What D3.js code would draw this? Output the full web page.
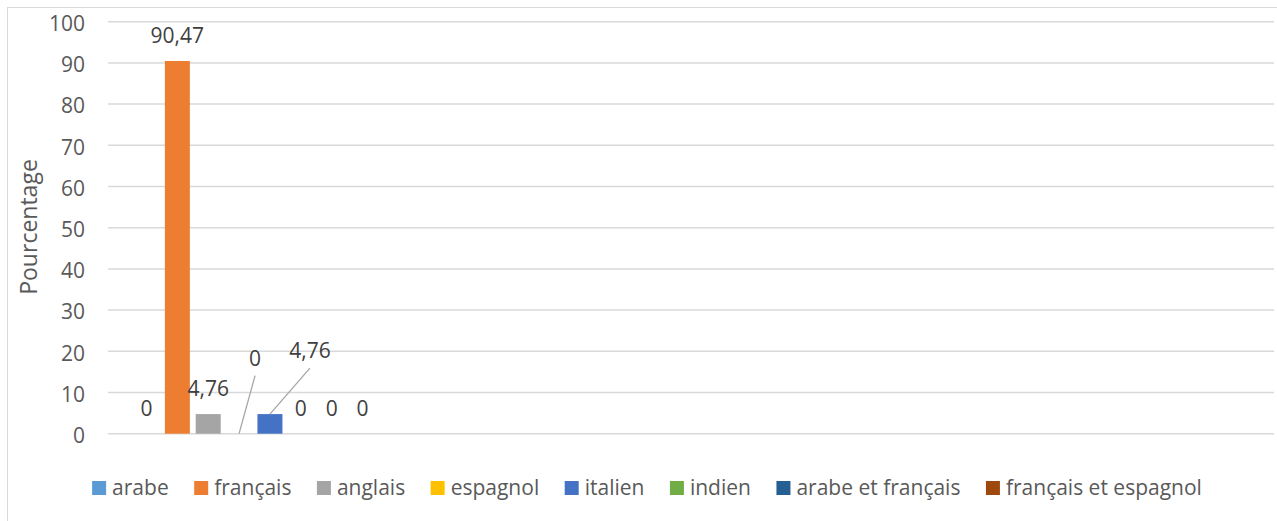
<!DOCTYPE html>
<html>
<head>
<meta charset="utf-8">
<script src="https://cdn.jsdelivr.net/npm/d3@7"></script>
<style>
  body { margin: 0; background: #fff; }
  text { font-family: "Open Sans", sans-serif; fill: #595959; }
</style>
</head>
<body>
<div id="chart"></div>
<script>
// data
var series = ["arabe", "français", "anglais", "espagnol", "italien", "indien", "arabe et français", "français et espagnol"];
var values = [0, 90.47, 4.76, 0, 4.76, 0, 0, 0];
var valueLabels = ["0", "90,47", "4,76", "0", "4,76", "0", "0", "0"];
var colors = ["#5b9bd5", "#ed7d31", "#a5a5a5", "#ffc000", "#4472c4", "#70ad47", "#255e91", "#9e480e"];
var yTicks = [0, 10, 20, 30, 40, 50, 60, 70, 80, 90, 100];

// chart dimensions
var width = 1277;
var height = 521;
var plotLeft = 108, plotRight = 1274, plotTop = 21.7, plotBottom = 433.7;

// labels moved away from their bars (with leader lines)
var moved = { "espagnol": [16, -50], "italien": [40, -38] };

var dataset = series.map(function(s, i) {
  return { name: s, value: values[i], label: valueLabels[i], color: colors[i] };
});

var svg = d3.select('#chart')
  .append('svg')
  .attr('width', width)
  .attr('height', height);

// chart border
svg.append('rect')
  .attr('x', 7.5).attr('y', 7.5)
  .attr('width', 1290).attr('height', 530)
  .attr('fill', 'none')
  .attr('stroke', '#d9d9d9');

var y = d3.scaleLinear().domain([0, 100]).range([plotBottom, plotTop]);

var x = d3.scaleBand()
  .domain(series)
  .range([134, 375])
  .paddingInner(0.19)
  .paddingOuter(0);

// gridlines
svg.append('g')
  .selectAll('line')
  .data(yTicks)
  .enter()
  .append('line')
  .attr('x1', plotLeft).attr('x2', plotRight)
  .attr('y1', function(d) { return y(d); })
  .attr('y2', function(d) { return y(d); })
  .attr('stroke', '#d9d9d9')
  .attr('stroke-width', 1.5);

// y axis labels
var yAxis = d3.axisLeft(y).tickValues(yTicks).tickSize(0).tickPadding(0);
var gy = svg.append('g')
  .attr('transform', 'translate(85,2)')
  .call(yAxis);
gy.select('.domain').remove();
gy.selectAll('text')
  .attr('style', 'font-size: 21px; fill: #595959; font-family: "Open Sans", sans-serif');

// axis title
svg.append('text')
  .attr('transform', 'translate(37,227) rotate(-90)')
  .attr('text-anchor', 'middle')
  .attr('style', 'font-size: 23px')
  .text('Pourcentage');

// bars
svg.append('g')
  .selectAll('rect')
  .data(dataset)
  .enter()
  .append('rect')
  .attr('x', function(d) { return x(d.name); })
  .attr('y', function(d) { return y(d.value); })
  .attr('width', x.bandwidth())
  .attr('height', function(d) { return y(0) - y(d.value); })
  .attr('fill', function(d) { return d.color; });

// value labels
function labelPos(d) {
  var cx = x(d.name) + x.bandwidth() / 2;
  var by = y(d.value) - 18;
  var off = moved[d.name];
  if (off) { cx += off[0]; by += off[1]; }
  return [cx, by];
}

svg.append('g')
  .selectAll('line')
  .data(dataset.filter(function(d) { return moved[d.name]; }))
  .enter()
  .append('line')
  .attr('x1', function(d) { return x(d.name) + x.bandwidth() / 2; })
  .attr('y1', function(d) { return y(d.value); })
  .attr('x2', function(d) { return labelPos(d)[0]; })
  .attr('y2', function(d) { return labelPos(d)[1] + 10; })
  .attr('stroke', '#a6a6a6')
  .attr('stroke-width', 1.3);

svg.append('g')
  .selectAll('text')
  .data(dataset)
  .enter()
  .append('text')
  .attr('x', function(d) { return labelPos(d)[0]; })
  .attr('y', function(d) { return labelPos(d)[1]; })
  .attr('text-anchor', 'middle')
  .attr('style', 'font-size: 21px; fill: #404040')
  .text(function(d) { return d.label; });

// legend
var legendRectSize = 14;
var legendGap = 25.5;
var legend = svg.append('g').attr('transform', 'translate(0,495)');
var items = legend.selectAll('g')
  .data(dataset)
  .enter()
  .append('g');
items.append('rect')
  .attr('width', legendRectSize)
  .attr('height', legendRectSize)
  .attr('y', -legendRectSize)
  .attr('fill', function(d) { return d.color; });
items.append('text')
  .attr('x', legendRectSize + 6)
  .attr('y', 0)
  .attr('style', 'font-size: 21px')
  .text(function(d) { return d.name; });

var pos = 0;
var offsets = [];
items.each(function() {
  offsets.push(pos);
  pos += this.getBBox().width + legendGap;
});
var total = pos - legendGap;
var start = 647 - total / 2;
items.attr('transform', function(d, i) { return 'translate(' + (start + offsets[i]) + ',0)'; });
</script>
</body>
</html>
